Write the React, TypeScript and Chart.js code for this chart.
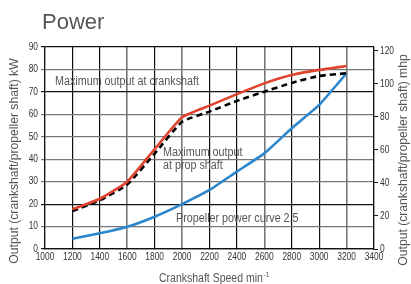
import React, { useEffect, useRef } from "react";
import { Chart, registerables } from "chart.js";

Chart.register(...registerables);

const speeds = [1200, 1400, 1600, 1800, 2000, 2200, 2400, 2600, 2800, 3000, 3200];
const crankshaftKW = [17.7, 22.4, 30, 44.5, 58.7, 63.9, 69, 73.8, 77.5, 79.8, 81.5];
const propShaftKW = [16.9, 21.7, 28.7, 42.5, 56.7, 61.2, 66, 70.1, 74, 77.1, 78.3];
const propellerCurveKW = [4.6, 7.0, 9.9, 14.4, 20, 26.3, 34.5, 42.6, 53.8, 64.2, 78.3];

const xMin = 1000;
const xMax = 3400;
const kwMax = 90;
const KW_TO_MHP = 1.35962;
const greyLines = [1600, 2000, 2600, 3200];
const greyHLines = [10, 30, 40, 50, 60, 80];

const SANS = '"Liberation Sans", Arial, sans-serif';

const annotations = [
  { text: "Maximum output at crankshaft", x: 1073, y: 74.4 },
  { text: "Maximum output", x: 1861, y: 42.8 },
  { text: "at prop shaft", x: 1861, y: 37.4 },
  { text: "Propeller power curve 2.5", x: 1956, y: 13.6 },
];

function narrowText(ctx: any, text: string, x: number, y: number, sx: number) {
  ctx.save();
  ctx.translate(x, y);
  ctx.scale(sx, 1);
  ctx.fillText(text, 0, 0);
  ctx.restore();
}

const textPlugin = {
  id: "texts",
  afterDraw(chart: any) {
    const ctx = chart.ctx;
    const xs = chart.scales.x;
    const ys = chart.scales.y;
    const y2 = chart.scales.y2;
    ctx.save();
    // title
    ctx.fillStyle = "#555";
    ctx.font = `22px ${SANS}`;
    ctx.textBaseline = "alphabetic";
    ctx.textAlign = "left";
    ctx.fillText("Power", 42, 29);

    // tick labels
    ctx.fillStyle = "#333";
    ctx.font = `10px ${SANS}`;
    ctx.textBaseline = "middle";
    ctx.textAlign = "center";
    for (const t of xs.ticks) {
      narrowText(ctx, String(t.value), xs.getPixelForValue(t.value), 257, 0.84);
    }
    ctx.textAlign = "right";
    for (const t of ys.ticks) {
      narrowText(ctx, String(t.value), 38, ys.getPixelForValue(t.value), 0.84);
    }
    ctx.textAlign = "left";
    for (const t of y2.ticks) {
      narrowText(ctx, String(t.value), 380, y2.getPixelForValue(t.value), 0.84);
    }

    // annotations
    ctx.font = `12.5px ${SANS}`;
    ctx.fillStyle = "#555";
    ctx.textBaseline = "middle";
    ctx.textAlign = "left";
    for (const a of annotations) {
      narrowText(ctx, a.text, xs.getPixelForValue(a.x), ys.getPixelForValue(a.y), 0.86);
    }
    // axis titles
    ctx.font = `13.5px ${SANS}`;
    ctx.textAlign = "center";
    ctx.save();
    ctx.translate(14, 161);
    ctx.rotate(-Math.PI / 2);
    narrowText(ctx, "Output (crankshaft/propeller shaft) kW", 0, 0, 0.9);
    ctx.restore();
    ctx.save();
    ctx.translate(403, 160);
    ctx.rotate(-Math.PI / 2);
    narrowText(ctx, "Output (crankshaft/propeller shaft) mhp", 0, 0, 0.9);
    ctx.restore();
    // x title
    ctx.font = `12.5px ${SANS}`;
    ctx.textAlign = "left";
    const main = "Crankshaft Speed min";
    const w = ctx.measureText(main).width * 0.84;
    const sx = 159;
    narrowText(ctx, main, sx, 279, 0.84);
    ctx.font = `8px ${SANS}`;
    narrowText(ctx, "-1", sx + w + 0.5, 275, 0.84);
    ctx.restore();
  },
};

export default function App() {
  const ref = useRef<HTMLCanvasElement>(null);
  useEffect(() => {
    if (!ref.current) return;
    const toPts = (arr: number[]) => speeds.map((s, i) => ({ x: s, y: arr[i] }));
    const common = { pointRadius: 0, borderWidth: 2.6, tension: 0.15, yAxisID: "y" };
    const chart = new Chart(ref.current, {
      type: "line",
      data: {
        datasets: [
          {
            ...common,
            label: "Maximum output at crankshaft",
            data: toPts(crankshaftKW),
            borderColor: "#e0442f",
          },
          {
            ...common,
            label: "Maximum output at prop shaft",
            data: toPts(propShaftKW),
            borderColor: "#000",
            borderDash: [6, 4],
          },
          {
            ...common,
            label: "Propeller power curve 2.5",
            data: toPts(propellerCurveKW),
            borderColor: "#2b86cc",
          },
        ],
      },
      options: {
        animation: false,
        responsive: false,
        maintainAspectRatio: false,
        layout: { padding: { top: 47, left: 0, right: 0, bottom: 0 } },
        plugins: {
          legend: { display: false },
          tooltip: { enabled: false },
          title: { display: false },
        },
        scales: {
          x: {
            type: "linear",
            min: xMin,
            max: xMax,
            ticks: { stepSize: 200, display: false, autoSkip: false },
            grid: {
              color: (c: any) => (greyLines.includes(c.tick?.value) ? "#777" : "#111"),
              lineWidth: (c: any) => (greyLines.includes(c.tick?.value) ? 1.6 : 1.2),
              tickLength: 0,
            },
            border: { color: "#111", width: 1.2 },
            afterFit: (s: any) => {
              s.height = 35;
            },
          },
          y: {
            position: "left",
            min: 0,
            max: kwMax,
            ticks: { stepSize: 10, display: false },
            grid: {
              color: (c: any) => (greyHLines.includes(c.tick?.value) ? "#777" : "#111"),
              lineWidth: 1.2,
              tickLength: 4,
            },
            border: { color: "#111", width: 1.2 },
            afterFit: (s: any) => {
              s.width = 45;
            },
          },
          y2: {
            position: "right",
            min: 0,
            max: kwMax * KW_TO_MHP,
            ticks: { stepSize: 20, includeBounds: false, display: false },
            grid: {
              drawOnChartArea: false,
              color: "#111",
              tickLength: 4,
            },
            border: { color: "#111", width: 1.2 },
            afterFit: (s: any) => {
              s.width = 37;
            },
          },
        },
      },
      plugins: [textPlugin],
    } as any);
    return () => chart.destroy();
  }, []);
  return (
    <div style={{ position: "fixed", left: 0, top: 0, width: 411, height: 284, background: "#fff" }}>
      <canvas ref={ref} width={411} height={284} style={{ width: 411, height: 284 }} />
    </div>
  );
}
